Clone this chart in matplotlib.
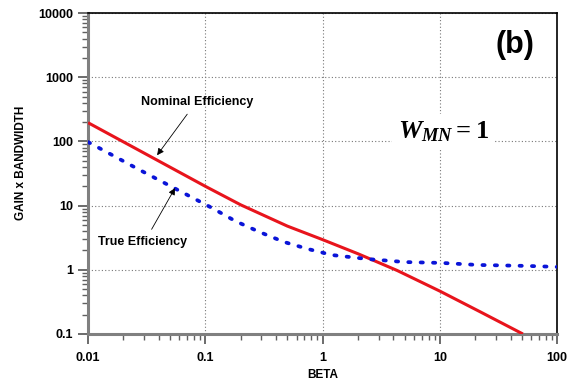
import matplotlib
matplotlib.use("Agg")
import matplotlib.pyplot as plt
from matplotlib.ticker import FixedLocator, FixedFormatter, LogLocator, NullFormatter

plt.rcParams['font.family'] = ['Liberation Sans', 'DejaVu Sans']
plt.rcParams['mathtext.fontset'] = 'custom'
plt.rcParams['mathtext.rm'] = 'Liberation Serif:bold'
plt.rcParams['mathtext.it'] = 'Liberation Serif:italic:bold'
plt.rcParams['mathtext.bf'] = 'Liberation Serif:bold'

beta_nom = [0.01, 0.03, 0.1, 0.2, 0.5, 1, 2, 4.3, 10, 22, 51]
gain_nom = [196, 66, 20, 10.3, 4.8, 2.95, 1.78, 0.98, 0.465, 0.222, 0.1]

beta_true = [0.01, 0.027, 0.114, 0.18, 0.29, 0.47, 0.75, 1.2, 2.44, 5.06, 10.4, 21, 55, 100]
gain_true = [98, 36.7, 9.2, 5.75, 3.88, 2.71, 2.11, 1.70, 1.47, 1.32, 1.28, 1.19, 1.15, 1.11]

xticks = [0.01, 0.1, 1, 10, 100]
xlabels = ['0.01', '0.1', '1', '10', '100']
yticks = [0.1, 1, 10, 100, 1000, 10000]
ylabels = ['0.1', '1', '10', '100', '1000', '10000']

fig = plt.figure(figsize=(5.68, 3.85), dpi=100)
ax = fig.add_axes([0.155, 0.1325, 0.826, 0.8335])
ax.set_xscale('log')
ax.set_yscale('log')
ax.set_xlim(0.01, 100)
ax.set_ylim(0.1, 10000)

ax.plot(beta_nom, gain_nom, color='#e8141c', lw=2.2, solid_capstyle='butt',
        solid_joinstyle='round', zorder=3)
ax.plot(beta_true, gain_true, color='#0a14d8', lw=2.7, linestyle=(0, (0.6, 2.7)),
        dash_capstyle='round', zorder=3)

ax.xaxis.set_major_locator(FixedLocator(xticks))
ax.xaxis.set_major_formatter(FixedFormatter(xlabels))
ax.yaxis.set_major_locator(FixedLocator(yticks))
ax.yaxis.set_major_formatter(FixedFormatter(ylabels))
ax.xaxis.set_minor_locator(LogLocator(base=10, subs=range(2, 10), numticks=20))
ax.yaxis.set_minor_locator(LogLocator(base=10, subs=range(2, 10), numticks=20))
ax.xaxis.set_minor_formatter(NullFormatter())
ax.yaxis.set_minor_formatter(NullFormatter())

ax.grid(True, which='major', linestyle=(0, (1, 2)), color='#777777', lw=0.8)

for s in ['left', 'bottom']:
    ax.spines[s].set_color('#808080')
    ax.spines[s].set_linewidth(2.2)
for s in ['top', 'right']:
    ax.spines[s].set_color('black')
    ax.spines[s].set_linewidth(1.2)

ax.tick_params(which='major', direction='out', length=7, width=1.3, color='#606060',
               labelsize=9, pad=4)
ax.tick_params(axis='x', which='major', pad=6)
ax.tick_params(which='minor', direction='out', length=4, width=1.0, color='#606060')
ax.tick_params(top=False, right=False, which='both')
for lab in ax.get_xticklabels() + ax.get_yticklabels():
    lab.set_fontweight('bold')

ax.set_xlabel('BETA', fontsize=8.5, fontweight='bold')
ax.xaxis.set_label_coords(0.5, -0.128)
ax.xaxis.label.set_va('center')
ax.set_ylabel('GAIN x BANDWIDTH', fontsize=8.5, fontweight='bold')
ax.yaxis.set_label_coords(-0.142, 0.533)
ax.yaxis.label.set_va('center')

ax.annotate('Nominal Efficiency', xy=(0.0388, 61), xytext=(0.0855, 411),
            textcoords='data', ha='center', va='center', fontsize=9, fontweight='bold',
            arrowprops=dict(arrowstyle='-|>', color='black', lw=0.6, relpos=(0.45, 0.0),
                            mutation_scale=10, shrinkA=3, shrinkB=0))
ax.annotate('True Efficiency', xy=(0.0552, 18.8), xytext=(0.0292, 2.74),
            textcoords='data', ha='center', va='center', fontsize=9, fontweight='bold',
            arrowprops=dict(arrowstyle='-|>', color='black', lw=0.6, relpos=(0.56, 1.0),
                            mutation_scale=10, shrinkA=3, shrinkB=0))

ax.text(0.757, 0.629, r'$W_{MN}= 1$', transform=ax.transAxes, ha='center', va='center',
        fontsize=19, bbox=dict(facecolor='white', edgecolor='none', pad=4), zorder=4)
ax.text(0.91, 0.90, '(b)', transform=ax.transAxes, ha='center', va='center',
        fontsize=22, fontweight='bold')

fig.savefig('out.png', dpi=100)
